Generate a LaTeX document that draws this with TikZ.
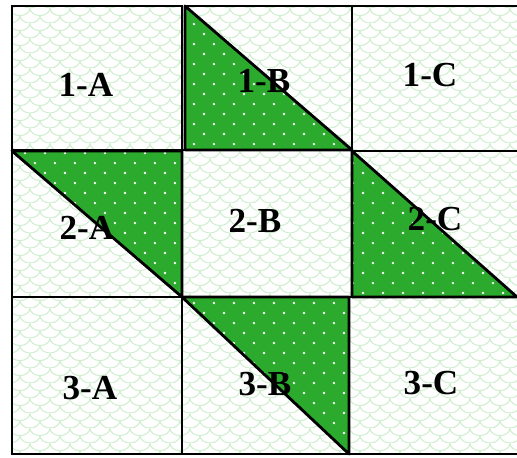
\documentclass[tikz,border=0pt]{standalone}
\usepackage{fontspec}
\setmainfont{Liberation Serif}
\usetikzlibrary{patterns}

\definecolor{quiltgreen}{RGB}{44,170,46}
\definecolor{scalegreen}{RGB}{208,238,208}

% white dots on the green patches
\pgfdeclarepatternformonly{quiltdots}{\pgfqpoint{0pt}{0pt}}{\pgfqpoint{11.34pt}{11.34pt}}{\pgfqpoint{11.34pt}{11.34pt}}{%
  \pgfpathcircle{\pgfqpoint{2.83pt}{2.83pt}}{0.75pt}
  \pgfpathcircle{\pgfqpoint{8.5pt}{8.5pt}}{0.75pt}
  \pgfusepath{fill}}

% light scales on the white squares
\pgfdeclarepatternformonly{quiltscales}{\pgfqpoint{0pt}{0pt}}{\pgfqpoint{11.34pt}{8.5pt}}{\pgfqpoint{11.34pt}{8.5pt}}{%
  \pgfsetlinewidth{0.6pt}
  \pgfpathmoveto{\pgfqpoint{0pt}{4.25pt}}
  \pgfpatharc{180}{360}{5.67pt and 4.25pt}
  \pgfpathmoveto{\pgfqpoint{5.67pt}{8.5pt}}
  \pgfpatharc{0}{-90}{5.67pt and 4.25pt}
  \pgfpathmoveto{\pgfqpoint{11.34pt}{4.25pt}}
  \pgfpatharc{270}{180}{5.67pt and 4.25pt}
  \pgfusepath{stroke}}

\tikzset{
  cellline/.style={line width=1pt},
  patchline/.style={line width=1.6pt,line join=round},
  celltext/.style={font=\bfseries\fontsize{20}{20}\selectfont,inner sep=0pt}
}

\begin{document}
\begin{tikzpicture}[x=0.02cm,y=-0.02cm]
  \useasboundingbox (0,0) rectangle (517,457);
  \clip (0,0) rectangle (517,457);
  % background squares
  \fill[white] (12,6) rectangle (520,454);
  \fill[pattern=quiltscales,pattern color=scalegreen] (12,6) rectangle (520,454);
  % green half squares
  \foreach \ax/\ay/\bx/\by/\cx/\cy in {185/6/185/150/352/150, 12/151/182/151/182/297,
      352/151/352/297/517/297, 182/297/349/297/349/454}
  {
    \fill[quiltgreen] (\ax,\ay) -- (\bx,\by) -- (\cx,\cy) -- cycle;
    \fill[pattern=quiltdots,pattern color=white] (\ax,\ay) -- (\bx,\by) -- (\cx,\cy) -- cycle;
  }
  % squares
  \foreach \xa/\ya/\xb/\yb in {12/6/182/150, 185/6/352/150, 352/6/520/151,
      12/150/182/297, 182/150/352/297, 352/151/520/297,
      12/297/182/454, 182/297/349/454, 349/297/520/454}
    \draw[cellline] (\xa,\ya) rectangle (\xb,\yb);
  \foreach \ax/\ay/\bx/\by/\cx/\cy in {185/6/185/150/352/150, 12/151/182/151/182/297,
      352/151/352/297/517/297, 182/297/349/297/349/454}
    \draw[patchline] (\ax,\ay) -- (\bx,\by) -- (\cx,\cy) -- cycle;
  % labels
  \foreach \n/\t/\x/\y in {1A/1-A/86/85, 1B/1-B/264/81, 1C/1-C/430/75,
      2A/2-A/87/228, 2B/2-B/255/221, 2C/2-C/435/219,
      3A/3-A/90/388, 3B/3-B/265/384, 3C/3-C/431/383}
    \node[celltext] (lbl\n) at (\x,\y) {\t};
\end{tikzpicture}
\end{document}
